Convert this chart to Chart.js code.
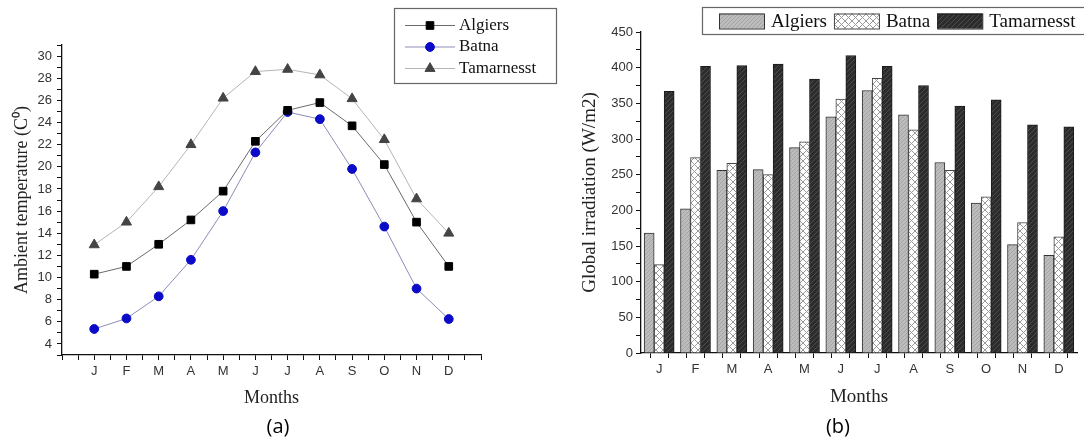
<!DOCTYPE html>
<html>
<head>
<meta charset="utf-8">
<script src="https://cdn.jsdelivr.net/npm/chart.js@4.4.1/dist/chart.umd.min.js"></script>
<style>
  html, body { margin: 0; padding: 0; background: #fff; }
  body { width: 1084px; height: 441px; position: relative; overflow: hidden; }
  .panel { position: absolute; top: 0; height: 441px; }
  #panelA { left: 0; width: 570px; }
  #panelB { left: 544px; width: 540px; }
  .cap { position: absolute; top: 413px; width: 60px; text-align: center;
         font-family: "Open Sans", sans-serif; font-size: 20px; line-height: 26px; color: #000; }
  #capA { left: 248px; }
  #capB { left: 808px; }
</style>
</head>
<body>
<div class="panel" id="panelA"><canvas id="chartA"></canvas></div>
<div class="panel" id="panelB"><canvas id="chartB"></canvas></div>
<div class="cap" id="capA">(a)</div>
<div class="cap" id="capB">(b)</div>

<script>
// --- datos ---
const months = ['J', 'F', 'M', 'A', 'M', 'J', 'J', 'A', 'S', 'O', 'N', 'D'];

const tempAlgiers     = [10.3, 11.0, 13.0, 15.2, 17.8, 22.3, 25.1, 25.8, 23.7, 20.2, 15.0, 11.0];
const tempBatna       = [5.35, 6.3, 8.3, 11.6, 16.0, 21.3, 24.95, 24.3, 19.8, 14.6, 9.0, 6.25];
const tempTamarnesst  = [12.95, 15.0, 18.2, 22.0, 26.2, 28.6, 28.8, 28.3, 26.15, 22.45, 17.1, 14.0];

const irrAlgiers      = [168, 202, 256, 257, 288, 331, 368, 334, 267, 210, 152, 137];
const irrBatna        = [124, 274, 266, 250, 296, 356, 385, 313, 256, 219, 183, 163];
const irrTamarnesst   = [367, 402, 403, 405, 384, 417, 402, 375, 346, 355, 320, 317];

const tempTickLabels  = [4, 6, 8, 10, 12, 14, 16, 18, 20, 22, 24, 26, 28, 30];
const irrTickLabels   = [0, 50, 100, 150, 200, 250, 300, 350, 400, 450];

// --- estilos comunes ---
const tickFont  = { family: 'Liberation Sans', size: 13 };
const titleFont = { family: 'Liberation Serif', size: 18 };

// patrones de relleno (rayado)
function hatch(bg, fg, size, cross) {
  const c = document.createElement('canvas');
  c.width = c.height = size;
  const g = c.getContext('2d');
  g.fillStyle = bg;
  g.fillRect(0, 0, size, size);
  g.strokeStyle = fg;
  g.lineWidth = 1;
  g.beginPath();
  g.moveTo(-1, size + 1); g.lineTo(size + 1, -1);
  g.moveTo(-1, 1); g.lineTo(1, -1);
  g.moveTo(size - 1, size + 1); g.lineTo(size + 1, size - 1);
  if (cross) {
    g.moveTo(-1, -1); g.lineTo(size + 1, size + 1);
    g.moveTo(size - 1, -1); g.lineTo(size + 1, 1);
    g.moveTo(-1, size - 1); g.lineTo(1, size + 1);
  }
  g.stroke();
  return g.createPattern(c, 'repeat');
}

// leyenda con recuadro
const boxLegend = {
  id: 'boxLegend',
  afterDraw(chart, args, o) {
    const ctx = chart.ctx;
    ctx.save();
    ctx.fillStyle = '#fff';
    ctx.fillRect(o.x, o.y, o.w, o.h);
    ctx.strokeStyle = '#666';
    ctx.lineWidth = 1.2;
    ctx.strokeRect(o.x, o.y, o.w, o.h);
    ctx.font = o.font;
    ctx.textBaseline = 'middle';
    let cx = o.startX;
    chart.data.datasets.forEach((ds, i) => {
      if (o.kind === 'line') {
        const y = o.y + o.rowTop + i * o.rowGap;
        ctx.strokeStyle = ds.borderColor;
        ctx.lineWidth = 1;
        ctx.beginPath();
        ctx.moveTo(o.startX, y);
        ctx.lineTo(o.startX + o.lineLen, y);
        ctx.stroke();
        ctx.fillStyle = ds.pointBackgroundColor;
        ctx.strokeStyle = ds.pointBorderColor;
        Chart.helpers.drawPoint(ctx, { pointStyle: ds.pointStyle, radius: ds.pointRadius, rotation: 0, borderWidth: 1 },
          o.startX + o.lineLen / 2, y);
        ctx.fillStyle = '#111';
        ctx.fillText(ds.label, o.startX + o.lineLen + o.gap, y);
      } else {
        const y = o.y + o.h / 2;
        ctx.fillStyle = ds.backgroundColor;
        ctx.fillRect(cx, y - o.sh / 2, o.sw, o.sh);
        ctx.strokeStyle = ds.borderColor;
        ctx.lineWidth = 1;
        ctx.strokeRect(cx + 0.5, y - o.sh / 2 + 0.5, o.sw, o.sh);
        cx += o.sw + o.gap;
        ctx.fillStyle = '#111';
        ctx.fillText(ds.label, cx, y + 1);
        cx += ctx.measureText(ds.label).width + o.gap;
      }
    });
    ctx.restore();
  }
};

function axisGrid() {
  return { display: true, drawOnChartArea: false, drawTicks: true, tickLength: 5, tickColor: '#111', tickWidth: 1 };
}
const axisBorder = { display: true, color: '#111', width: 1.3 };

// --- Gráfica (a): temperatura ---
const toXY = arr => arr.map((v, i) => ({ x: i + 1, y: v }));

new Chart(document.getElementById('chartA'), {
  type: 'line',
  data: {
    datasets: [
      { label: 'Algiers', data: toXY(tempAlgiers), borderColor: '#6a6a6a', borderWidth: 1,
        pointStyle: 'rect', pointRadius: 5.4, pointBackgroundColor: '#000', pointBorderColor: '#000' },
      { label: 'Batna', data: toXY(tempBatna), borderColor: '#8c8cb8', borderWidth: 1,
        pointStyle: 'circle', pointRadius: 4.4, pointBackgroundColor: '#0a0ac8', pointBorderColor: '#0a0ac8' },
      { label: 'Tamarnesst', data: toXY(tempTamarnesst), borderColor: '#b4b4b4', borderWidth: 1,
        pointStyle: 'triangle', pointRadius: 5.8, pointBackgroundColor: '#444', pointBorderColor: '#444' }
    ]
  },
  options: {
    responsive: true,
    maintainAspectRatio: false,
    animation: false,
    layout: { padding: { left: 0, top: 45, right: 89, bottom: 0 } },
    plugins: {
      legend: { display: false },
      tooltip: { enabled: false },
      boxLegend: { kind: 'line', x: 394.5, y: 8.5, w: 162, h: 75, startX: 405, lineLen: 50, gap: 4,
                   rowTop: 17, rowGap: 21.5, font: '17px "Liberation Serif"' }
    },
    scales: {
      x: {
        type: 'linear', min: 0, max: 13,
        afterFit: s => { s.height = 86; },
        grid: axisGrid(), border: axisBorder,
        ticks: {
          stepSize: 0.5, autoSkip: false, maxRotation: 0, padding: 4, font: tickFont, color: '#333',
          callback: v => (Number.isInteger(v) && v >= 1 && v <= 12) ? months[v - 1] : ''
        },
        title: { display: true, text: 'Months', font: titleFont, color: '#222', padding: { top: 0, bottom: 32 } }
      },
      y: {
        min: 3, max: 31,
        afterFit: s => { s.width = 62; },
        grid: axisGrid(), border: axisBorder,
        ticks: {
          stepSize: 1, autoSkip: false, padding: 5, font: tickFont, color: '#333',
          callback: v => tempTickLabels.includes(v) ? v : ''
        },
        title: { display: true, text: 'Ambient temperature (C\u2070)', font: titleFont, color: '#222',
                 padding: { top: 11, bottom: 0 } }
      }
    }
  },
  plugins: [boxLegend]
});

// --- Gráfica (b): irradiación ---
new Chart(document.getElementById('chartB'), {
  type: 'bar',
  data: {
    datasets: [
      { label: 'Algiers', data: irrAlgiers.map((v, i) => ({ x: i, y: v })),
        backgroundColor: hatch('#bcbcbc', '#a4a4a4', 4, false), borderColor: '#333', borderWidth: 1, barThickness: 10 },
      { label: 'Batna', data: irrBatna.map((v, i) => ({ x: i, y: v })),
        backgroundColor: hatch('#ffffff', '#9a9a9a', 7, true), borderColor: '#444', borderWidth: 1, barThickness: 10 },
      { label: 'Tamarnesst', data: irrTamarnesst.map((v, i) => ({ x: i, y: v })),
        backgroundColor: hatch('#2c2c2c', '#4c4c4c', 5, false), borderColor: '#1a1a1a', borderWidth: 1, barThickness: 10 }
    ]
  },
  options: {
    responsive: true,
    maintainAspectRatio: false,
    animation: false,
    layout: { padding: { left: 0, top: 32, right: 7, bottom: 0 } },
    plugins: {
      legend: { display: false },
      tooltip: { enabled: false },
      boxLegend: { kind: 'bar', x: 158.5, y: 7.5, w: 400, h: 27, startX: 175, sw: 45, sh: 15, gap: 7,
                   font: '19px "Liberation Serif"' }
    },
    scales: {
      x: {
        type: 'linear', min: -0.5, max: 11.5, offset: false,
        afterFit: s => { s.height = 88; },
        grid: axisGrid(), border: axisBorder,
        ticks: {
          stepSize: 0.5, autoSkip: false, maxRotation: 0, padding: 4, font: tickFont, color: '#333',
          callback: v => (Number.isInteger(v) && v >= 0 && v <= 11) ? months[v] : ''
        },
        title: { display: true, text: 'Months', font: { family: 'Liberation Serif', size: 19 }, color: '#222',
                 padding: { top: 0, bottom: 33 } }
      },
      y: {
        min: 0, max: 450,
        afterFit: s => { s.width = 97; },
        grid: axisGrid(), border: axisBorder,
        ticks: {
          stepSize: 25, autoSkip: false, padding: 3, font: tickFont, color: '#333',
          callback: v => irrTickLabels.includes(v) ? v : ''
        },
        title: { display: true, text: 'Global irradiation (W/m2)', font: { family: 'Liberation Serif', size: 19 },
                 color: '#222', padding: { top: 35, bottom: 0 } }
      }
    }
  },
  plugins: [boxLegend]
});
</script>
</body>
</html>
